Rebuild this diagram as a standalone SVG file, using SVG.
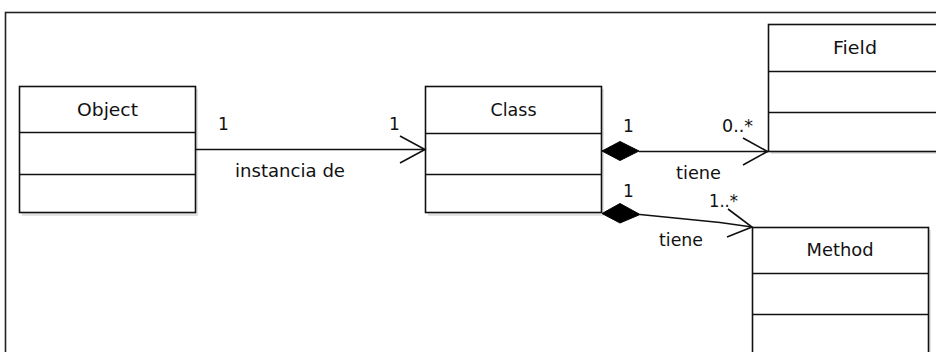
<svg xmlns="http://www.w3.org/2000/svg" width="936" height="352" viewBox="0 0 936 352">
<defs>
<style>
.frame{fill:none;stroke:#222;stroke-width:1.6}
.box rect{fill:#fff;stroke:#111;stroke-width:1.6}
.box line{stroke:#111;stroke-width:1.6}
.box rect.shadow{fill:#e2e2e2;stroke:none}
text{font-family:"DejaVu Sans","Liberation Sans",sans-serif;font-size:17px;fill:#111}
.title{text-anchor:middle}
.conn line,.conn polyline{fill:none;stroke:#111;stroke-width:1.6}
.diam{fill:#000;stroke:#000;stroke-width:1}
</style>
</defs>
<rect width="936" height="352" fill="#fff"/>
<rect class="frame" x="5.5" y="12.5" width="940" height="350"/>

<g id="Object" class="box">
<rect class="shadow" x="22" y="89" width="176" height="127"/>
<rect x="19.5" y="86.5" width="176" height="126"/>
<line x1="19.5" y1="132.5" x2="195.5" y2="132.5"/>
<line x1="19.5" y1="174.5" x2="195.5" y2="174.5"/>
<text class="title" x="107.5" y="116" textLength="61" lengthAdjust="spacingAndGlyphs">Object</text>
</g>

<g id="Class" class="box">
<rect class="shadow" x="428" y="89" width="176" height="127"/>
<rect x="425.5" y="86.5" width="176" height="126"/>
<line x1="425.5" y1="133.5" x2="601.5" y2="133.5"/>
<line x1="425.5" y1="174.5" x2="601.5" y2="174.5"/>
<text class="title" x="513.5" y="116" textLength="46" lengthAdjust="spacingAndGlyphs">Class</text>
</g>

<g id="Field" class="box">
<rect class="shadow" x="771" y="27" width="180" height="127"/>
<rect x="768.5" y="24.5" width="180" height="127"/>
<line x1="768.5" y1="71.5" x2="948" y2="71.5"/>
<line x1="768.5" y1="112.5" x2="948" y2="112.5"/>
<text class="title" x="855" y="54" textLength="44" lengthAdjust="spacingAndGlyphs">Field</text>
</g>

<g id="Method" class="box">
<rect class="shadow" x="755" y="230" width="176" height="140"/>
<rect x="752.5" y="227.5" width="176" height="140"/>
<line x1="752.5" y1="273.5" x2="928.5" y2="273.5"/>
<line x1="752.5" y1="314.5" x2="928.5" y2="314.5"/>
<text class="title" x="840" y="256" textLength="67" lengthAdjust="spacingAndGlyphs">Method</text>
</g>

<g id="connectors" class="conn">
<line x1="195.5" y1="149.5" x2="425.5" y2="149.5"/>
<polyline points="400,136 425,149.5 400,163"/>
<text x="218" y="130">1</text>
<text x="389" y="130">1</text>
<text x="235" y="177" textLength="110" lengthAdjust="spacingAndGlyphs">instancia de</text>

<polygon class="diam" points="602,151 620,141.5 639,151 620,160.5"/>
<line x1="639" y1="151.5" x2="768" y2="151.5"/>
<polyline points="743,138 767.5,151.5 743,165"/>
<text x="623" y="132">1</text>
<text x="722" y="132" textLength="31" lengthAdjust="spacingAndGlyphs">0..*</text>
<text x="676" y="179" textLength="45" lengthAdjust="spacingAndGlyphs">tiene</text>

<polygon class="diam" points="602,213.5 620,203.5 640,214.5 620,223"/>
<polyline points="640,214.5 720,222.5 752,227"/>
<polyline points="728,209 752,227 727,237"/>
<text x="623" y="197">1</text>
<text x="709" y="207" textLength="29" lengthAdjust="spacingAndGlyphs">1..*</text>
<text x="659" y="246" textLength="44" lengthAdjust="spacingAndGlyphs">tiene</text>
</g>
</svg>
